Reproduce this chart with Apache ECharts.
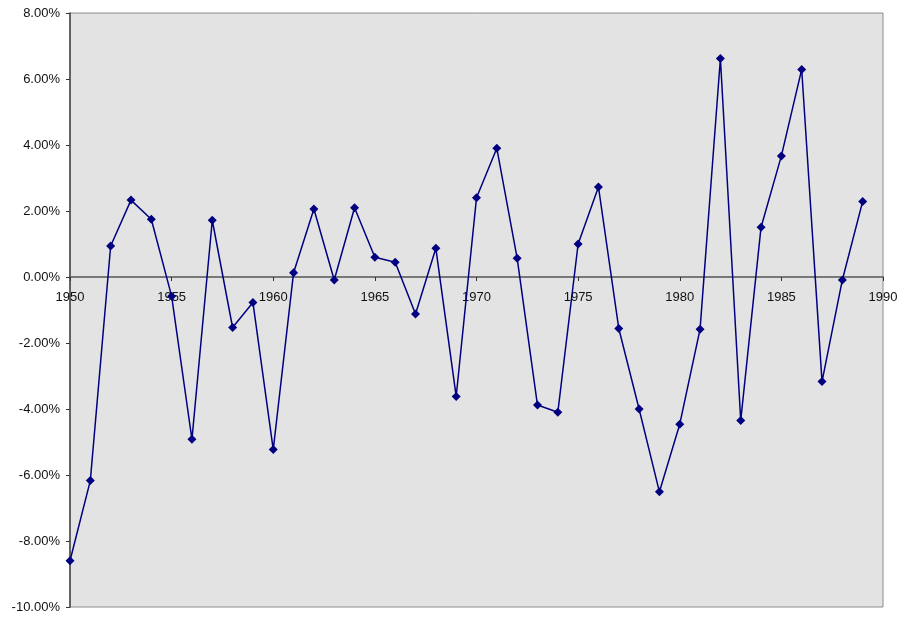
<!DOCTYPE html>
<html>
<head>
<meta charset="utf-8">
<script src="https://cdn.jsdelivr.net/npm/echarts@6/dist/echarts.min.js"></script>
<style>html,body{margin:0;padding:0;background:#fff;}#c{width:904px;height:618px;}</style>
</head>
<body>
<div id="c"></div>
<script>
const years = [1950,1951,1952,1953,1954,1955,1956,1957,1958,1959,1960,1961,1962,1963,1964,1965,1966,1967,1968,1969,1970,1971,1972,1973,1974,1975,1976,1977,1978,1979,1980,1981,1982,1983,1984,1985,1986,1987,1988,1989];
const values = [-8.6,-6.17,0.94,2.33,1.75,-0.58,-4.92,1.72,-1.53,-0.77,-5.23,0.13,2.06,-0.09,2.1,0.6,0.45,-1.12,0.87,-3.62,2.4,3.9,0.57,-3.88,-4.1,1.0,2.73,-1.56,-4.0,-6.51,-4.46,-1.58,6.62,-4.35,1.51,3.67,6.29,-3.17,-0.09,2.29];
const xTicks = {min:1950, max:1990, step:5};
const yTicks = {min:-10, max:8, step:2};

const chart = echarts.init(document.getElementById('c'), null, {renderer:'canvas'});
const font = 'Liberation Sans, Arial, sans-serif';
const gridTop = 13, gridBottom = 11, H = 618;
const plotH = H - gridTop - gridBottom;
// distance from plot bottom to the zero line, derived from the y range
const zeroOffset = -plotH * (0 - yTicks.min) / (yTicks.max - yTicks.min);
chart.setOption({
  animation:false,
  backgroundColor:'#ffffff',
  grid:{left:70,right:21,top:gridTop,bottom:gridBottom,show:true,backgroundColor:'#e3e3e3',borderColor:'#8c8c8c',borderWidth:1,containLabel:false,outerBoundsMode:'none'},
  xAxis:{
    type:'value', min:xTicks.min, max:xTicks.max, interval:xTicks.step,
    position:'bottom', offset:zeroOffset,
    axisLine:{onZero:false,lineStyle:{color:'#555',width:1.5}},
    axisTick:{show:true,length:4,lineStyle:{color:'#333'}},
    axisLabel:{color:'#111',fontFamily:font,fontSize:13,margin:14,formatter:v=>String(v)},
    splitLine:{show:false}
  },
  yAxis:{
    type:'value', min:yTicks.min, max:yTicks.max, interval:yTicks.step,
    axisLine:{show:true,lineStyle:{color:'#444',width:1.5}},
    axisTick:{show:true,length:4,lineStyle:{color:'#333'}},
    axisLabel:{color:'#111',fontFamily:font,fontSize:13,margin:10,formatter:v=>v.toFixed(2)+'%'},
    splitLine:{show:false}
  },
  series:[{
    type:'line',
    data:years.map((y,i)=>[y,values[i]]),
    symbol:'diamond', symbolSize:9,
    lineStyle:{color:'#000080',width:1.5},
    itemStyle:{color:'#000080'},
    z:3
  }]
});
</script>
</body>
</html>
